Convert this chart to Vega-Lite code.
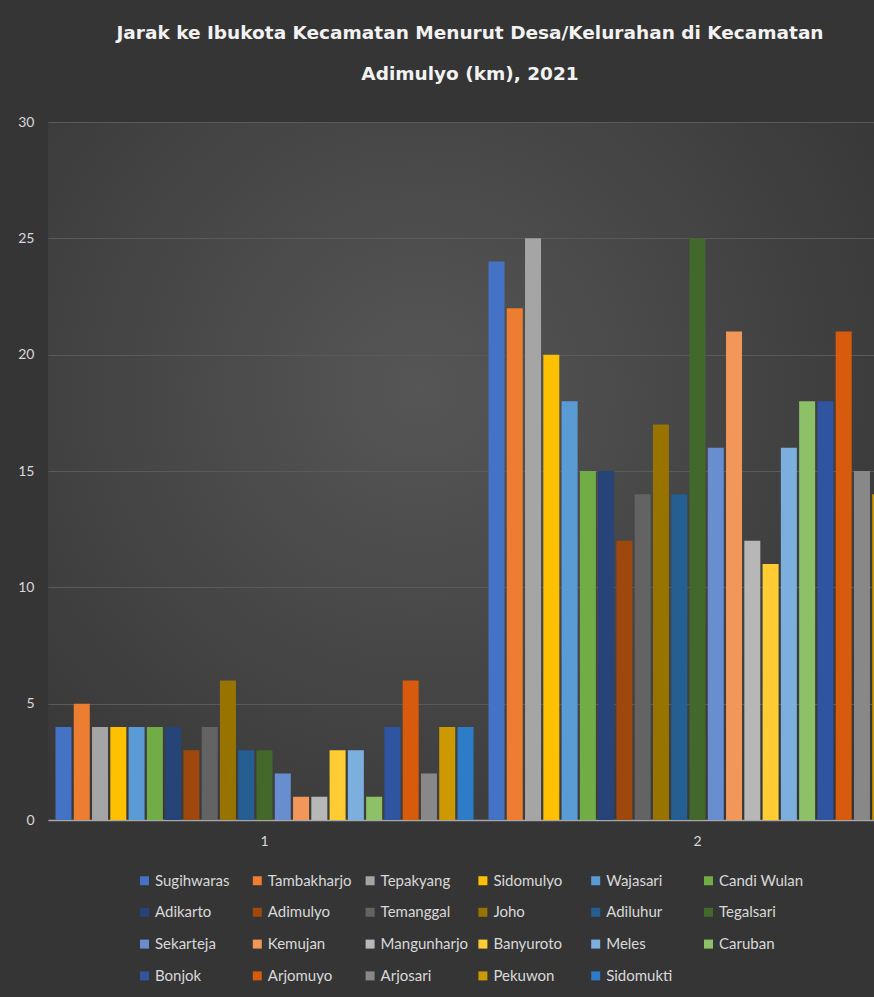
{
  "$schema": "https://vega.github.io/schema/vega-lite/v6.json",
  "width": 826,
  "height": 698,
  "autosize": {"type": "none"},
  "padding": {"left": 48, "top": 122, "right": 0, "bottom": 177},
  "background": "#353535",
  "view": {
    "stroke": null,
    "fill": {
      "gradient": "radial",
      "x1": 0.45, "y1": 0.4, "r1": 0,
      "x2": 0.45, "y2": 0.4, "r2": 0.75,
      "stops": [
        {"offset": 0, "color": "#565656"},
        {"offset": 1, "color": "#333333"}
      ]
    }
  },
  "title": {
    "text": ["Jarak ke Ibukota Kecamatan Menurut Desa/Kelurahan di Kecamatan", "Adimulyo (km), 2021"],
    "font": "DejaVu Sans",
    "fontSize": 18.5,
    "fontWeight": "bold",
    "color": "#f2f2f2",
    "lineHeight": 41,
    "anchor": "middle",
    "frame": "group",
    "dx": 9,
    "offset": 32
  },
  "data": {
    "values": [
      {"Kelompok": "1", "Desa": "Sugihwaras", "Jarak": 4},
      {"Kelompok": "1", "Desa": "Tambakharjo", "Jarak": 5},
      {"Kelompok": "1", "Desa": "Tepakyang", "Jarak": 4},
      {"Kelompok": "1", "Desa": "Sidomulyo", "Jarak": 4},
      {"Kelompok": "1", "Desa": "Wajasari", "Jarak": 4},
      {"Kelompok": "1", "Desa": "Candi Wulan", "Jarak": 4},
      {"Kelompok": "1", "Desa": "Adikarto", "Jarak": 4},
      {"Kelompok": "1", "Desa": "Adimulyo", "Jarak": 3},
      {"Kelompok": "1", "Desa": "Temanggal", "Jarak": 4},
      {"Kelompok": "1", "Desa": "Joho", "Jarak": 6},
      {"Kelompok": "1", "Desa": "Adiluhur", "Jarak": 3},
      {"Kelompok": "1", "Desa": "Tegalsari", "Jarak": 3},
      {"Kelompok": "1", "Desa": "Sekarteja", "Jarak": 2},
      {"Kelompok": "1", "Desa": "Kemujan", "Jarak": 1},
      {"Kelompok": "1", "Desa": "Mangunharjo", "Jarak": 1},
      {"Kelompok": "1", "Desa": "Banyuroto", "Jarak": 3},
      {"Kelompok": "1", "Desa": "Meles", "Jarak": 3},
      {"Kelompok": "1", "Desa": "Caruban", "Jarak": 1},
      {"Kelompok": "1", "Desa": "Bonjok", "Jarak": 4},
      {"Kelompok": "1", "Desa": "Arjomuyo", "Jarak": 6},
      {"Kelompok": "1", "Desa": "Arjosari", "Jarak": 2},
      {"Kelompok": "1", "Desa": "Pekuwon", "Jarak": 4},
      {"Kelompok": "1", "Desa": "Sidomukti", "Jarak": 4},
      {"Kelompok": "2", "Desa": "Sugihwaras", "Jarak": 24},
      {"Kelompok": "2", "Desa": "Tambakharjo", "Jarak": 22},
      {"Kelompok": "2", "Desa": "Tepakyang", "Jarak": 25},
      {"Kelompok": "2", "Desa": "Sidomulyo", "Jarak": 20},
      {"Kelompok": "2", "Desa": "Wajasari", "Jarak": 18},
      {"Kelompok": "2", "Desa": "Candi Wulan", "Jarak": 15},
      {"Kelompok": "2", "Desa": "Adikarto", "Jarak": 15},
      {"Kelompok": "2", "Desa": "Adimulyo", "Jarak": 12},
      {"Kelompok": "2", "Desa": "Temanggal", "Jarak": 14},
      {"Kelompok": "2", "Desa": "Joho", "Jarak": 17},
      {"Kelompok": "2", "Desa": "Adiluhur", "Jarak": 14},
      {"Kelompok": "2", "Desa": "Tegalsari", "Jarak": 25},
      {"Kelompok": "2", "Desa": "Sekarteja", "Jarak": 16},
      {"Kelompok": "2", "Desa": "Kemujan", "Jarak": 21},
      {"Kelompok": "2", "Desa": "Mangunharjo", "Jarak": 12},
      {"Kelompok": "2", "Desa": "Banyuroto", "Jarak": 11},
      {"Kelompok": "2", "Desa": "Meles", "Jarak": 16},
      {"Kelompok": "2", "Desa": "Caruban", "Jarak": 18},
      {"Kelompok": "2", "Desa": "Bonjok", "Jarak": 18},
      {"Kelompok": "2", "Desa": "Arjomuyo", "Jarak": 21},
      {"Kelompok": "2", "Desa": "Arjosari", "Jarak": 15},
      {"Kelompok": "2", "Desa": "Pekuwon", "Jarak": 14},
      {"Kelompok": "2", "Desa": "Sidomukti", "Jarak": 13}
    ]
  },
  "mark": {"type": "bar", "clip": true},
  "encoding": {
    "x": {
      "field": "Kelompok",
      "type": "nominal",
      "scale": {"range": [0, 866], "paddingInner": 0, "paddingOuter": 0},
      "axis": {
        "title": null,
        "labelAngle": 0,
        "ticks": false,
        "grid": false,
        "domainColor": "#a6a6a6",
        "domainWidth": 1.5,
        "labelPadding": 14,
        "labelFont": "Lato",
        "labelFontSize": 14,
        "labelColor": "#d9d9d9"
      }
    },
    "xOffset": {
      "field": "Desa",
      "type": "nominal",
      "scale": {
        "domain": ["Sugihwaras", "Tambakharjo", "Tepakyang", "Sidomulyo", "Wajasari", "Candi Wulan", "Adikarto", "Adimulyo", "Temanggal", "Joho", "Adiluhur", "Tegalsari", "Sekarteja", "Kemujan", "Mangunharjo", "Banyuroto", "Meles", "Caruban", "Bonjok", "Arjomuyo", "Arjosari", "Pekuwon", "Sidomukti"],
        "paddingInner": 0.124,
        "paddingOuter": 0.41
      }
    },
    "y": {
      "field": "Jarak",
      "type": "quantitative",
      "scale": {"domain": [0, 30], "nice": false},
      "axis": {
        "title": null,
        "values": [0, 5, 10, 15, 20, 25, 30],
        "domain": false,
        "ticks": false,
        "labelPadding": 14,
        "labelFont": "Lato",
        "labelFontSize": 14,
        "labelColor": "#d9d9d9",
        "gridColor": "#5a5a5a",
        "gridWidth": 1
      }
    },
    "color": {
      "field": "Desa",
      "type": "nominal",
      "scale": {
        "domain": ["Sugihwaras", "Tambakharjo", "Tepakyang", "Sidomulyo", "Wajasari", "Candi Wulan", "Adikarto", "Adimulyo", "Temanggal", "Joho", "Adiluhur", "Tegalsari", "Sekarteja", "Kemujan", "Mangunharjo", "Banyuroto", "Meles", "Caruban", "Bonjok", "Arjomuyo", "Arjosari", "Pekuwon", "Sidomukti"],
        "range": ["#4472C4", "#ED7D31", "#A5A5A5", "#FFC000", "#5B9BD5", "#70AD47", "#264478", "#9E480E", "#636363", "#997300", "#255E91", "#43682B", "#698ED0", "#F1975A", "#B7B7B7", "#FFCD33", "#7CAFDD", "#8CC168", "#2F55A0", "#D85A0C", "#888888", "#CC9A00", "#2E7BC8"]
      },
      "legend": {
        "title": null,
        "orient": "none",
        "legendX": 89,
        "legendY": 751,
        "columns": 6,
        "direction": "horizontal",
        "gridAlign": "all",
        "columnPadding": 6.8,
        "rowPadding": 15.8,
        "padding": 0,
        "symbolType": "square",
        "symbolSize": 81,
        "symbolStrokeWidth": 0,
        "labelOffset": 3,
        "labelFont": "Lato",
        "labelFontSize": 15,
        "labelColor": "#d9d9d9",
        "labelLimit": 200
      }
    }
  }
}
